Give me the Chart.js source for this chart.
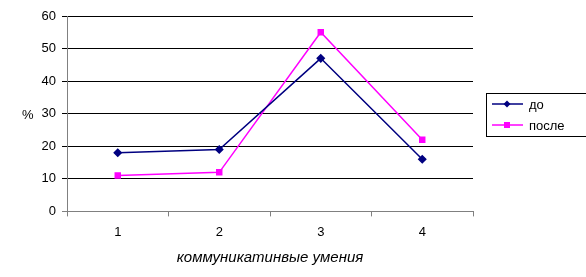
<!DOCTYPE html>
<html>
<head>
<meta charset="utf-8">
<script src="https://cdn.jsdelivr.net/npm/chart.js@4"></script>
<style>
  body { margin: 0; background: #fff; }
  #wrap { width: 586px; height: 277px; }
</style>
</head>
<body>
<div id="wrap"><canvas id="mycanvas" width="586" height="277"></canvas></div>
<script>
var categories = ['1', '2', '3', '4'];
var doValues = [18, 19, 47, 16];
var posleValues = [11, 12, 55, 22];
var seriesNames = ['до', 'после'];
var yTicks = [0, 10, 20, 30, 40, 50, 60];
var xTitle = 'коммуникатинвые умения';
var yTitle = '%';

// legend and "%" label drawn by hand, like the old Excel chart
var extras = {
	id: 'extras',
	afterDraw: function(chart) {
		var ctx = chart.ctx;
		var area = chart.chartArea;
		ctx.save();
		ctx.font = '13px "Liberation Sans", Arial, sans-serif';
		ctx.fillStyle = '#000';
		ctx.textBaseline = 'middle';
		ctx.textAlign = 'left';
		var ys = chart.scales.y;
		ctx.fillText(yTitle, 22, ys.getPixelForValue(30) + 2);

		// legend box
		var lx = area.right + 13, ly = 93;
		ctx.strokeStyle = '#000';
		ctx.lineWidth = 1;
		ctx.strokeRect(lx + 0.5, ly + 0.5, 120, 43);
		chart.data.datasets.forEach(function(ds, i) {
			var y = ly + 11 + i * 21;
			ctx.strokeStyle = ds.borderColor;
			ctx.lineWidth = 1.5;
			ctx.beginPath();
			ctx.moveTo(lx + 6, y);
			ctx.lineTo(lx + 37, y);
			ctx.stroke();
			ctx.fillStyle = ds.pointBackgroundColor;
			var cx = lx + 21;
			if (ds.pointStyle === 'rectRot') {
				ctx.beginPath();
				ctx.moveTo(cx, y - 3.5);
				ctx.lineTo(cx + 3.5, y);
				ctx.lineTo(cx, y + 3.5);
				ctx.lineTo(cx - 3.5, y);
				ctx.closePath();
				ctx.fill();
			} else {
				ctx.fillRect(cx - 3, y - 3, 6, 6);
			}
			ctx.fillStyle = '#000';
			ctx.fillText(ds.label, lx + 43, y + 1);
		});
		ctx.restore();
	}
};

var ctx = document.getElementById('mycanvas');
var chart = new Chart(ctx, {
	type: 'line',
	data: {
		labels: categories,
		datasets: [
			{
				label: seriesNames[0],
				data: doValues,
				borderColor: '#000080',
				backgroundColor: '#000080',
				pointBackgroundColor: '#000080',
				pointBorderColor: '#000080',
				pointStyle: 'rectRot',
				pointRadius: 3.5,
				borderWidth: 1.5,
				tension: 0
			},
			{
				label: seriesNames[1],
				data: posleValues,
				borderColor: '#ff00ff',
				backgroundColor: '#ff00ff',
				pointBackgroundColor: '#ff00ff',
				pointBorderColor: '#ff00ff',
				pointStyle: 'rect',
				pointRadius: 3.5,
				borderWidth: 1.5,
				tension: 0
			}
		]
	},
	options: {
		responsive: false,
		animation: false,
		layout: { padding: { left: 0, right: 113, top: 16, bottom: 6 } },
		plugins: {
			legend: { display: false },
			tooltip: { enabled: false }
		},
		scales: {
			x: {
				offset: true,
				grid: {
					offset: true,
					drawOnChartArea: false,
					tickLength: 5,
					color: '#808080'
				},
				border: { color: '#808080' },
				ticks: {
					color: '#000',
					padding: 8,
					font: { family: '"Liberation Sans", Arial, sans-serif', size: 13 }
				},
				title: {
					display: true,
					text: xTitle,
					color: '#000',
					padding: { top: 1 },
					font: { family: '"Liberation Sans", Arial, sans-serif', size: 15, style: 'italic' }
				}
			},
			y: {
				min: 0,
				max: 60,
				afterBuildTicks: function(s) {
					s.ticks = yTicks.map(function(v) { return { value: v }; });
				},
				afterFit: function(s) { s.width = 67; },
				grid: {
					color: function(c) { return c.tick && c.tick.value === 0 ? '#808080' : '#000'; },
					tickLength: 5
				},
				border: { color: '#808080' },
				ticks: {
					color: '#000',
					padding: 6,
					font: { family: '"Liberation Sans", Arial, sans-serif', size: 13 }
				}
			}
		}
	},
	plugins: [extras]
});
</script>
</body>
</html>
